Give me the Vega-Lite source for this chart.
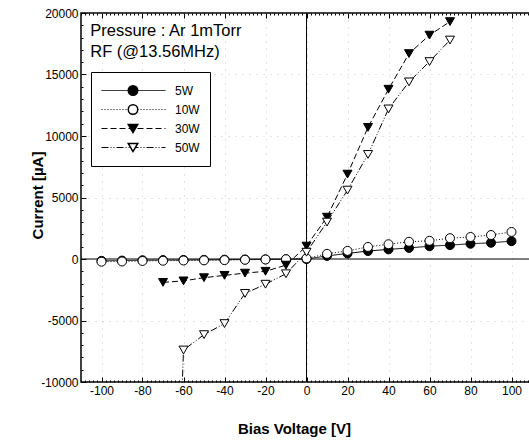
{
  "$schema": "https://vega.github.io/schema/vega-lite/v6.json",
  "autosize": {"type": "none"},
  "padding": {"left": 81, "top": 13, "right": 0, "bottom": 58},
  "width": 451,
  "height": 369,
  "background": "white",
  "config": {
    "view": {"stroke": "black", "strokeWidth": 1.5},
    "font": "Liberation Sans",
    "axis": {"labelFont": "Liberation Sans", "labelFontSize": 12, "labelColor": "black", "titleFont": "Liberation Sans", "titleFontSize": 15, "titleFontWeight": "bold", "titleColor": "black", "domain": false, "tickColor": "black", "tickWidth": 1, "labelOverlap": false, "labelFlush": false},
    "legend": {"labelFont": "Liberation Sans", "labelFontSize": 12, "labelColor": "black"}
  },
  "data": {
    "values": [
      {"voltage": -100, "current": -150, "power": "5W"},
      {"voltage": -90, "current": -130, "power": "5W"},
      {"voltage": -80, "current": -100, "power": "5W"},
      {"voltage": -70, "current": -90, "power": "5W"},
      {"voltage": -60, "current": -80, "power": "5W"},
      {"voltage": -50, "current": -70, "power": "5W"},
      {"voltage": -40, "current": -50, "power": "5W"},
      {"voltage": -30, "current": -40, "power": "5W"},
      {"voltage": -20, "current": -30, "power": "5W"},
      {"voltage": -10, "current": -20, "power": "5W"},
      {"voltage": 0, "current": 0, "power": "5W"},
      {"voltage": 10, "current": 250, "power": "5W"},
      {"voltage": 20, "current": 450, "power": "5W"},
      {"voltage": 30, "current": 650, "power": "5W"},
      {"voltage": 40, "current": 780, "power": "5W"},
      {"voltage": 50, "current": 900, "power": "5W"},
      {"voltage": 60, "current": 1040, "power": "5W"},
      {"voltage": 70, "current": 1130, "power": "5W"},
      {"voltage": 80, "current": 1240, "power": "5W"},
      {"voltage": 90, "current": 1320, "power": "5W"},
      {"voltage": 100, "current": 1450, "power": "5W"},
      {"voltage": -100, "current": -220, "power": "10W"},
      {"voltage": -90, "current": -200, "power": "10W"},
      {"voltage": -80, "current": -160, "power": "10W"},
      {"voltage": -70, "current": -140, "power": "10W"},
      {"voltage": -60, "current": -120, "power": "10W"},
      {"voltage": -50, "current": -110, "power": "10W"},
      {"voltage": -40, "current": -90, "power": "10W"},
      {"voltage": -30, "current": -60, "power": "10W"},
      {"voltage": -20, "current": -40, "power": "10W"},
      {"voltage": -10, "current": -20, "power": "10W"},
      {"voltage": 0, "current": 50, "power": "10W"},
      {"voltage": 10, "current": 420, "power": "10W"},
      {"voltage": 20, "current": 660, "power": "10W"},
      {"voltage": 30, "current": 980, "power": "10W"},
      {"voltage": 40, "current": 1200, "power": "10W"},
      {"voltage": 50, "current": 1400, "power": "10W"},
      {"voltage": 60, "current": 1480, "power": "10W"},
      {"voltage": 70, "current": 1690, "power": "10W"},
      {"voltage": 80, "current": 1790, "power": "10W"},
      {"voltage": 90, "current": 1950, "power": "10W"},
      {"voltage": 100, "current": 2200, "power": "10W"},
      {"voltage": -70, "current": -1900, "power": "30W"},
      {"voltage": -60, "current": -1780, "power": "30W"},
      {"voltage": -50, "current": -1520, "power": "30W"},
      {"voltage": -40, "current": -1330, "power": "30W"},
      {"voltage": -30, "current": -1150, "power": "30W"},
      {"voltage": -20, "current": -1000, "power": "30W"},
      {"voltage": -10, "current": -500, "power": "30W"},
      {"voltage": 0, "current": 1050, "power": "30W"},
      {"voltage": 10, "current": 3400, "power": "30W"},
      {"voltage": 20, "current": 6900, "power": "30W"},
      {"voltage": 30, "current": 10700, "power": "30W"},
      {"voltage": 40, "current": 13800, "power": "30W"},
      {"voltage": 50, "current": 16700, "power": "30W"},
      {"voltage": 60, "current": 18200, "power": "30W"},
      {"voltage": 70, "current": 19300, "power": "30W"},
      {"voltage": -61, "current": -12000, "power": "50W"},
      {"voltage": -60, "current": -7400, "power": "50W"},
      {"voltage": -50, "current": -6150, "power": "50W"},
      {"voltage": -40, "current": -5250, "power": "50W"},
      {"voltage": -30, "current": -2800, "power": "50W"},
      {"voltage": -20, "current": -2050, "power": "50W"},
      {"voltage": -10, "current": -1200, "power": "50W"},
      {"voltage": 0, "current": 550, "power": "50W"},
      {"voltage": 10, "current": 3000, "power": "50W"},
      {"voltage": 20, "current": 5600, "power": "50W"},
      {"voltage": 30, "current": 8500, "power": "50W"},
      {"voltage": 40, "current": 12200, "power": "50W"},
      {"voltage": 50, "current": 14400, "power": "50W"},
      {"voltage": 60, "current": 16050, "power": "50W"},
      {"voltage": 70, "current": 17800, "power": "50W"}
    ]
  },
  "resolve": {"axis": {"x": "independent", "y": "independent"}},
  "layer": [
    {
      "data": {"values": [{}]},
      "mark": {"type": "rule", "color": "black", "strokeWidth": 1},
      "encoding": {
        "x": {"datum": 0, "type": "quantitative", "scale": {"domain": [-110, 110], "nice": false, "zero": false},
          "axis": {"orient": "top", "title": null, "labels": false, "grid": false,
            "values": [-110,-108,-106,-104,-102,-100,-98,-96,-94,-92,-90,-88,-86,-84,-82,-80,-78,-76,-74,-72,-70,-68,-66,-64,-62,-60,-58,-56,-54,-52,-50,-48,-46,-44,-42,-40,-38,-36,-34,-32,-30,-28,-26,-24,-22,-20,-18,-16,-14,-12,-10,-8,-6,-4,-2,0,2,4,6,8,10,12,14,16,18,20,22,24,26,28,30,32,34,36,38,40,42,44,46,48,50,52,54,56,58,60,62,64,66,68,70,72,74,76,78,80,82,84,86,88,90,92,94,96,98,100,102,104,106,108,110],
            "tickSize": {"condition": {"test": "datum.value % 20 == 0", "value": -5}, "value": -2}}}
      }
    },
    {
      "data": {"values": [{}]},
      "mark": {"type": "rule", "color": "black", "strokeWidth": 1},
      "encoding": {
        "y": {"datum": 0, "type": "quantitative", "axis": null}
      }
    },
    {
      "mark": {"type": "line", "color": "black", "strokeWidth": 1, "clip": true},
      "encoding": {
        "x": {"field": "voltage", "type": "quantitative", "scale": {"domain": [-110, 110], "nice": false, "zero": false},
          "axis": {"orient": "bottom", "title": "Bias Voltage [V]", "titleX": 213, "titleY": 51, "titleBaseline": "alphabetic", "titleAnchor": "start", "titleAlign": "center",
            "values": [-110,-108,-106,-104,-102,-100,-98,-96,-94,-92,-90,-88,-86,-84,-82,-80,-78,-76,-74,-72,-70,-68,-66,-64,-62,-60,-58,-56,-54,-52,-50,-48,-46,-44,-42,-40,-38,-36,-34,-32,-30,-28,-26,-24,-22,-20,-18,-16,-14,-12,-10,-8,-6,-4,-2,0,2,4,6,8,10,12,14,16,18,20,22,24,26,28,30,32,34,36,38,40,42,44,46,48,50,52,54,56,58,60,62,64,66,68,70,72,74,76,78,80,82,84,86,88,90,92,94,96,98,100,102,104,106,108,110],
            "labelExpr": "(datum.value % 20 == 0 && abs(datum.value) <= 100) ? replace(format(datum.value, 'd'), '−', '-') : ''",
            "labelOverlap": false, "labelFlush": false, "labelPadding": 8,
            "tickSize": {"condition": {"test": "datum.value % 20 == 0", "value": -5}, "value": -2},
            "grid": true, "gridColor": "#888", "gridDash": [1, 6], "gridOpacity": {"condition": {"test": "datum.value % 20 == 0", "value": 0.45}, "value": 0}}},
        "y": {"field": "current", "type": "quantitative", "scale": {"domain": [-10000, 20000], "nice": false, "zero": false},
          "axis": {"title": "Current [µA]", "titleX": -44, "titleY": 182, "titleAngle": -90, "titleBaseline": "middle", "titleAlign": "center", "titleAnchor": "start",
            "values": [-10000,-9000,-8000,-7000,-6000,-5000,-4000,-3000,-2000,-1000,0,1000,2000,3000,4000,5000,6000,7000,8000,9000,10000,11000,12000,13000,14000,15000,16000,17000,18000,19000,20000],
            "labelExpr": "datum.value % 5000 == 0 ? replace(format(datum.value, 'd'), '−', '-') : ''",
            "labelOverlap": false, "labelFlush": false, "labelPadding": 8,
            "tickSize": {"condition": {"test": "datum.value % 5000 == 0", "value": -5}, "value": -2},
            "grid": true, "gridColor": "#888", "gridDash": [1, 6], "gridOpacity": {"condition": {"test": "datum.value % 5000 == 0 && datum.value != 0", "value": 0.45}, "value": 0}}},
        "strokeDash": {"field": "power", "type": "nominal", "sort": ["5W", "10W", "30W", "50W"],
          "scale": {"range": [[1, 0], [1, 2], [6, 3], [7, 2, 1, 2, 1, 2]]},
          "legend": {"title": null, "orient": "none", "legendX": 10, "legendY": 59, "padding": 10, "clipHeight": 17, "rowPadding": 2,
            "symbolType": "M-1,0H1", "symbolSize": 4096, "symbolStrokeWidth": 1, "symbolStrokeColor": "black",
            "labelOffset": 9, "labelFontSize": 12, "strokeColor": "black", "fillColor": "white", "zindex": 1}}
      }
    },
    {
      "transform": [{"filter": "datum.current >= -10000"}],
      "mark": {"type": "point", "filled": true, "stroke": "black", "strokeWidth": 1, "opacity": 1, "size": 81, "clip": true},
      "encoding": {
        "x": {"field": "voltage", "type": "quantitative", "axis": null},
        "y": {"field": "current", "type": "quantitative", "axis": null},
        "shape": {"field": "power", "type": "nominal",
          "scale": {"domain": ["5W", "10W", "30W", "50W"], "range": ["circle", "circle", "triangle-down", "triangle-down"]},
          "legend": {"title": null, "orient": "none", "legendX": 10, "legendY": 59, "padding": 10, "clipHeight": 17, "rowPadding": 2,
            "symbolSize": 90, "symbolOffset": 26, "labelExpr": "''", "zindex": 2,
            "encode": {"symbols": {"stroke": {"value": "black"}, "strokeWidth": {"value": 1}, "size": {"value": 90}, "opacity": {"value": 1}}}}},
        "fill": {"field": "power", "type": "nominal",
          "scale": {"domain": ["5W", "10W", "30W", "50W"], "range": ["black", "white", "black", "white"]},
          "legend": {"title": null, "orient": "none", "legendX": 10, "legendY": 59, "padding": 10, "clipHeight": 17, "rowPadding": 2,
            "symbolSize": 90, "symbolOffset": 26, "labelExpr": "''", "zindex": 2,
            "encode": {"symbols": {"stroke": {"value": "black"}, "strokeWidth": {"value": 1}, "size": {"value": 90}, "opacity": {"value": 1}}}}}
      }
    },
    {
      "data": {"values": [{}]},
      "mark": {"type": "text", "align": "left", "baseline": "alphabetic", "fontSize": 16.5, "font": "Liberation Sans", "lineHeight": 21, "color": "black"},
      "encoding": {
        "x": {"datum": -105.5, "type": "quantitative", "axis": null},
        "y": {"datum": 18100, "type": "quantitative", "axis": null},
        "text": {"value": ["Pressure : Ar 1mTorr", "RF (@13.56MHz)"]}
      }
    }
  ]
}
